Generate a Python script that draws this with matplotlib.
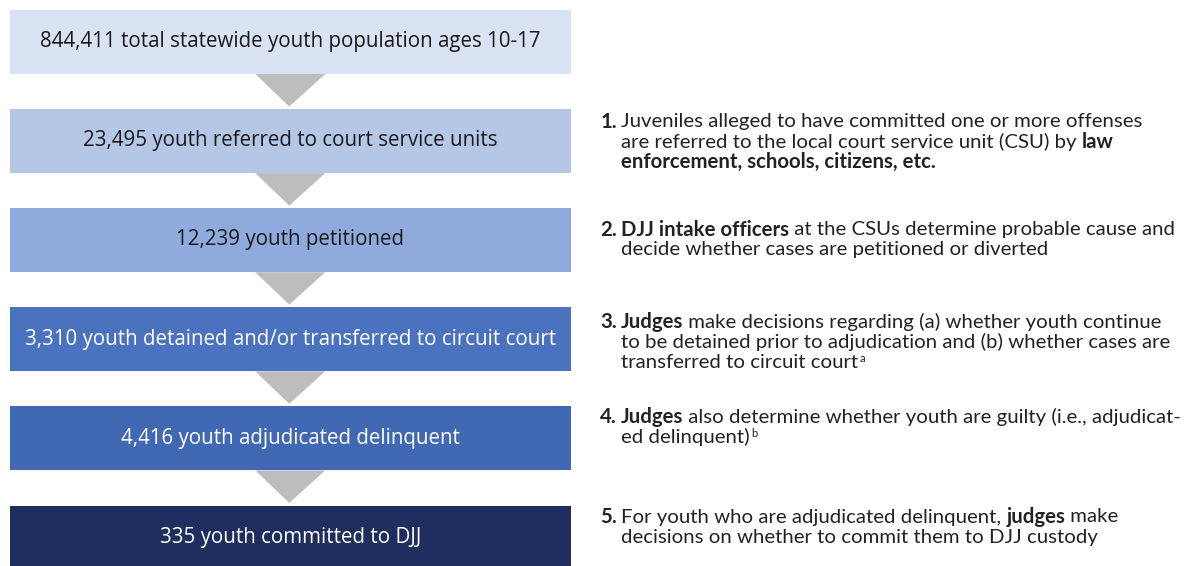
import matplotlib
matplotlib.use("Agg")
import matplotlib.pyplot as plt
from matplotlib.patches import Rectangle, Polygon

# flow steps (left column)
counts = ["844,411", "23,495", "12,239", "3,310", "4,416", "335"]
descriptions = ["total statewide youth population ages 10-17",
                "youth referred to court service units",
                "youth petitioned",
                "youth detained and/or transferred to circuit court",
                "youth adjudicated delinquent",
                "youth committed to DJJ"]
box_colors = ["#DAE3F3", "#B4C7E7", "#8FAADC", "#4A72BE", "#4169B3", "#1F2E5E"]
label_colors = ["#1A1A1A", "#1A1A1A", "#1A1A1A", "white", "white", "white"]

# explanatory notes (right column): one entry per note, lines of (text, style)
# style: "n" normal, "b" bold, "s" superscript
notes = [
    [[("1.", "b"), ("Juveniles alleged to have committed one or more offenses", "n")],
     [("are referred to the local court service unit (CSU) by ", "n"), ("law", "b")],
     [("enforcement, schools, citizens, etc.", "b")]],
    [[("2.", "b"), ("DJJ intake officers", "b"), (" at the CSUs determine probable cause and", "n")],
     [("decide whether cases are petitioned or diverted", "n")]],
    [[("3.", "b"), ("Judges", "b"), (" make decisions regarding (a) whether youth continue", "n")],
     [("to be detained prior to adjudication and (b) whether cases are", "n")],
     [("transferred to circuit court", "n"), ("a", "s")]],
    [[("4.", "b"), ("Judges", "b"), (" also determine whether youth are guilty (i.e., adjudicat-", "n")],
     [("ed delinquent)", "n"), ("b", "s")]],
    [[("5.", "b"), ("For youth who are adjudicated delinquent, ", "n"), ("judges", "b"), (" make", "n")],
     [("decisions on whether to commit them to DJJ custody", "n")]],
]
note_first_line_y = [122, 230, 322, 417, 517]

fig = plt.figure(figsize=(11.92, 5.66), dpi=100)
ax = fig.add_axes([0, 0, 1, 1])
ax.set_xlim(0, 1192)
ax.set_ylim(566, 0)
ax.axis("off")
renderer = fig.canvas.get_renderer()

box_left, box_right = 10, 570.5
box_top0, box_h, pitch = 10, 63.5, 99.1
cx = (box_left + box_right) / 2

for i in range(len(counts)):
    top = box_top0 + i * pitch
    ax.add_patch(Rectangle((box_left, top), box_right - box_left, box_h,
                           facecolor=box_colors[i], edgecolor="none"))
    ax.text(cx, top + box_h / 2, counts[i] + " " + descriptions[i],
            ha="center", va="center", fontsize=14.8, family="Open Sans",
            color=label_colors[i])
    if i < len(counts) - 1:
        bot = top + box_h
        ax.add_patch(Polygon([(cx - 35, bot + 0.5), (cx + 35, bot + 0.5),
                              (cx - 1, bot + 33)], closed=True,
                             facecolor="#BDBDBD", edgecolor="none"))

note_font = "Lato"
note_size = 14.7
note_color = "#222222"


def piece_width(s, weight, size):
    t = ax.text(0, 0, "|" + s + "|", fontsize=size, family=note_font, fontweight=weight)
    w = t.get_window_extent(renderer).width
    t.remove()
    t = ax.text(0, 0, "||", fontsize=size, family=note_font, fontweight=weight)
    w -= t.get_window_extent(renderer).width
    t.remove()
    return w


num_right, text_x = 617, 621
line_gap = 20
for note, y0 in zip(notes, note_first_line_y):
    for j, line in enumerate(note):
        y = y0 + j * line_gap
        x = text_x
        for k, (s, style) in enumerate(line):
            if j == 0 and k == 0:
                ax.text(num_right, y, s, fontsize=note_size, family=note_font,
                        fontweight="bold", color=note_color, va="center", ha="right")
                continue
            if style == "s":
                ax.text(x + 2, y, s, fontsize=note_size * 0.55, family=note_font,
                        color=note_color, va="baseline", ha="left")
                continue
            weight = "bold" if style == "b" else "normal"
            ax.text(x, y, s, fontsize=note_size, family=note_font, fontweight=weight,
                    color=note_color, va="center", ha="left")
            x += piece_width(s, weight, note_size)

fig.savefig("out.png", dpi=100)
